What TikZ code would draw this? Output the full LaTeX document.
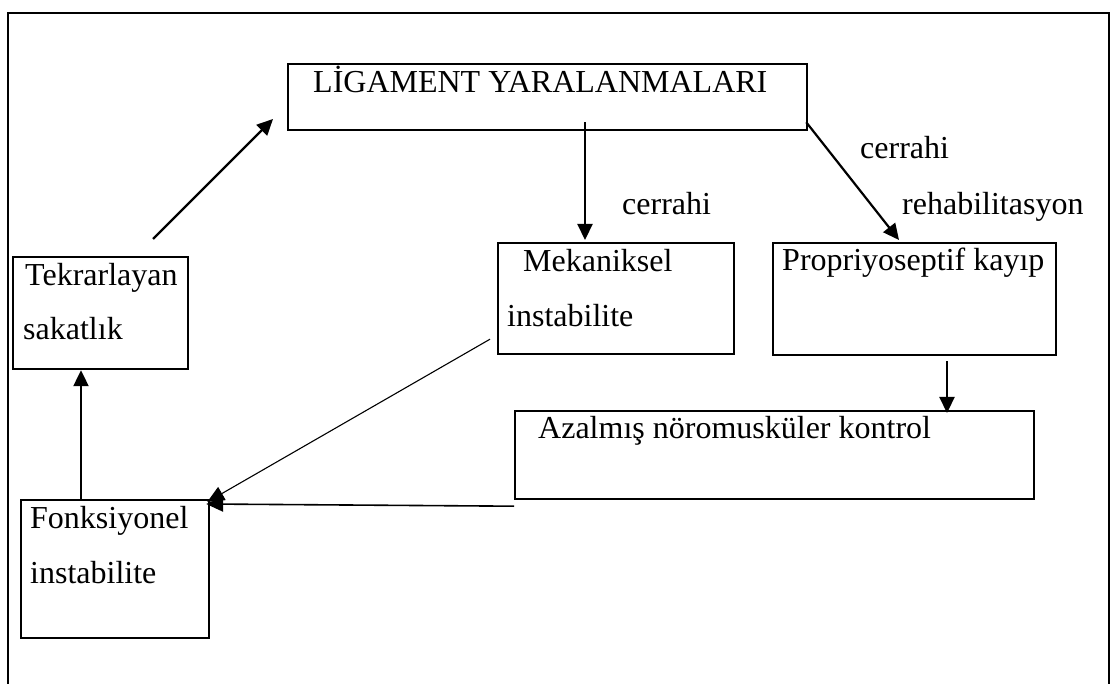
\documentclass[tikz,border=0pt]{standalone}
\usepackage{fontspec}
\setmainfont{Liberation Serif}
\usetikzlibrary{arrows.meta,calc}
\begin{document}
\begin{tikzpicture}[x=1pt,y=-1pt,
  box/.style={draw,line width=2.2pt,inner sep=0pt,anchor=north west,rectangle},
  lbl/.style={anchor=base west,inner sep=0pt,font=\fontsize{32}{38}\selectfont},
  arr/.style={line width=2.2pt,-{Triangle[length=16pt,width=15pt]}},
  thinarr/.style={line width=1.1pt,-{Triangle[length=17pt,width=15pt]}},
  midarr/.style={line width=1.6pt,-{Triangle[length=17pt,width=15pt]}}]
\useasboundingbox (0,0) rectangle (1117,684);
% outer frame
\draw[line width=2.2pt] (8,684) -- (8,13) -- (1109,13) -- (1109,684);
% boxes
\node[box,minimum width=519pt,minimum height=66pt] (lig) at (287,63) {};
\node[box,minimum width=236pt,minimum height=111pt] (mek) at (497,242) {};
\node[box,minimum width=283pt,minimum height=112pt] (pro) at (772,242) {};
\node[box,minimum width=519pt,minimum height=88pt] (aza) at (514,410) {};
\node[box,minimum width=175pt,minimum height=112pt] (tek) at (12,256) {};
\node[box,minimum width=188pt,minimum height=138pt] (fon) at (20,499) {};
% texts
\node[lbl] (tlig) at (313,93) {LİGAMENT YARALANMALARI};
\node[lbl] (tc1) at (622,215) {cerrahi};
\node[lbl] (tc2) at (860,159) {cerrahi};
\node[lbl] (treh) at (902,215) {rehabilitasyon};
\node[lbl] (tmek1) at (523,272) {Mekaniksel};
\node[lbl] (tmek2) at (507,327) {instabilite};
\node[lbl] (tpro) at (782,271) {Propriyoseptif kayıp};
\node[lbl] (taza) at (538,439) {Azalmış nöromusküler kontrol};
\node[lbl] (ttek1) at (25,286) {Tekrarlayan};
\node[lbl] (ttek2) at (23,340) {sakatlık};
\node[lbl] (tfon1) at (30,529) {Fonksiyonel};
\node[lbl] (tfon2) at (30,583) {instabilite};
% connectors
\draw[arr] ([xshift=141pt,yshift=17pt]tek.north west) -- ([xshift=-14pt,yshift=-56pt]lig.north west);
\draw[arr] ([xshift=298pt,yshift=9pt]lig.south west) -- ([xshift=88pt,yshift=2pt]mek.north west);
\draw[arr] ([xshift=-2pt,yshift=9pt]lig.south east) -- ([xshift=127pt,yshift=2pt]pro.north west);
\draw[arr] ([xshift=175pt,yshift=-5pt]pro.south west) -- ([xshift=433pt,yshift=-3pt]aza.north west);
\draw[arr] ([xshift=61pt]fon.north west) -- ([xshift=69pt]tek.south west);
\draw[thinarr] ([xshift=-7pt,yshift=16pt]mek.south west) -- ([xshift=-3pt,yshift=-3pt]fon.north east);
\draw[midarr] ([yshift=-6pt]aza.south west) -- ([xshift=-4pt,yshift=-5pt]fon.north east);
\end{tikzpicture}
\end{document}
